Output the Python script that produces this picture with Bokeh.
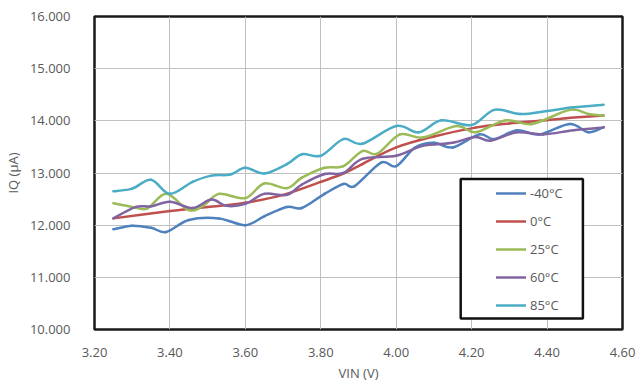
import numpy as np
from bokeh.plotting import figure
from bokeh.models import (FixedTicker, NumeralTickFormatter, Legend, LegendItem,
                          BoxAnnotation, Range1d)
from bokeh.embed import file_html
from bokeh.resources import INLINE

# ---- data ----
x_m40 = [3.25, 3.30, 3.35, 3.39, 3.45, 3.53, 3.60, 3.65, 3.71, 3.75, 3.81, 3.86, 3.89,
         3.96, 4.00, 4.05, 4.10, 4.15, 4.22, 4.26, 4.32, 4.38, 4.46, 4.51, 4.55]
y_m40 = [11.92, 11.99, 11.95, 11.87, 12.10, 12.13, 12.00, 12.17, 12.35, 12.33, 12.60, 12.79, 12.75,
         13.20, 13.13, 13.49, 13.58, 13.49, 13.74, 13.65, 13.82, 13.74, 13.94, 13.78, 13.88]

x_0 = [3.25, 3.40, 3.50, 3.60, 3.70, 3.80, 3.86, 3.91, 4.00, 4.10, 4.21, 4.30, 4.38, 4.45, 4.55]
y_0 = [12.13, 12.27, 12.35, 12.43, 12.58, 12.83, 12.99, 13.17, 13.49, 13.70, 13.87, 13.95, 14.00, 14.05, 14.10]

x_25 = [3.25, 3.30, 3.34, 3.39, 3.45, 3.49, 3.53, 3.60, 3.65, 3.71, 3.75, 3.81, 3.86, 3.91,
        3.95, 4.01, 4.07, 4.16, 4.21, 4.29, 4.36, 4.46, 4.51, 4.55]
y_25 = [12.42, 12.35, 12.32, 12.60, 12.29, 12.38, 12.60, 12.52, 12.80, 12.71, 12.91, 13.10, 13.13, 13.42,
        13.37, 13.74, 13.68, 13.90, 13.78, 14.01, 13.94, 14.21, 14.13, 14.10]

x_60 = [3.25, 3.31, 3.35, 3.40, 3.46, 3.51, 3.55, 3.60, 3.65, 3.71, 3.75, 3.81, 3.86, 3.91,
        4.00, 4.07, 4.15, 4.21, 4.25, 4.32, 4.39, 4.47, 4.55]
y_60 = [12.13, 12.35, 12.36, 12.45, 12.33, 12.49, 12.37, 12.41, 12.60, 12.58, 12.78, 12.98, 13.00, 13.27,
        13.33, 13.52, 13.58, 13.69, 13.62, 13.78, 13.74, 13.82, 13.87]

x_85 = [3.25, 3.30, 3.35, 3.40, 3.46, 3.51, 3.56, 3.60, 3.65, 3.71, 3.75, 3.80, 3.86, 3.91,
        4.00, 4.06, 4.12, 4.20, 4.26, 4.33, 4.40, 4.47, 4.55]
y_85 = [12.65, 12.70, 12.87, 12.60, 12.83, 12.95, 12.97, 13.10, 12.99, 13.17, 13.36, 13.33, 13.65, 13.56,
        13.90, 13.78, 14.01, 13.92, 14.21, 14.13, 14.19, 14.26, 14.31]

series_labels = ["-40°C", "0°C", "25°C", "60°C", "85°C"]
x_ticks = [3.2, 3.4, 3.6, 3.8, 4.0, 4.2, 4.4, 4.6]
y_ticks = [10, 11, 12, 13, 14, 15, 16]

# ---- styling ----
colors = ["#4F81BD", "#C0504D", "#9BBB59", "#8064A2", "#4BACC6"]
FONT = "Open Sans"
TXT = "#595959"


def smooth_segments(xv, yv):
    """Control points for a smoothed (Catmull-Rom style) line through the data points."""
    x = np.asarray(xv, float)
    y = np.asarray(yv, float)
    xp = np.concatenate([[x[0]], x, [x[-1]]])
    yp = np.concatenate([[y[0]], y, [y[-1]]])
    n = len(x) - 1
    x0, y0 = x[:-1], y[:-1]
    x1, y1 = x[1:], y[1:]
    cx0 = x0 + (xp[2:n + 2] - xp[0:n]) / 6.0
    cy0 = y0 + (yp[2:n + 2] - yp[0:n]) / 6.0
    cx1 = x1 - (xp[3:n + 3] - xp[1:n + 1]) / 6.0
    cy1 = y1 - (yp[3:n + 3] - yp[1:n + 1]) / 6.0
    return dict(x0=x0, y0=y0, x1=x1, y1=y1, cx0=cx0, cy0=cy0, cx1=cx1, cy1=cy1)


p = figure(width=638, height=385, output_backend="svg", toolbar_location=None,
           x_range=Range1d(3.2, 4.6), y_range=Range1d(10, 16),
           min_border_left=86, min_border_right=16, min_border_top=16, min_border_bottom=56)
p.background_fill_color = "white"
p.border_fill_color = "white"
p.outline_line_color = "#1a1a1a"
p.outline_line_width = 2.5

p.xaxis.ticker = FixedTicker(ticks=x_ticks)
p.yaxis.ticker = FixedTicker(ticks=y_ticks)
p.xaxis.formatter = NumeralTickFormatter(format="0.00")
p.yaxis.formatter = NumeralTickFormatter(format="0.000")
for ax in (p.xaxis, p.yaxis):
    ax.axis_line_color = None
    ax.major_tick_line_color = None
    ax.minor_tick_line_color = None
    ax.major_label_text_font = FONT
    ax.major_label_text_font_size = "13px"
    ax.major_label_text_color = TXT
    ax.axis_label_text_font = FONT
    ax.axis_label_text_font_size = "13px"
    ax.axis_label_text_color = TXT
    ax.axis_label_text_font_style = "normal"
p.xaxis.axis_label = "VIN (V)"
p.yaxis.axis_label = "IQ (µA)"
p.xaxis.major_label_standoff = 12
p.yaxis.major_label_standoff = 18
p.xaxis.axis_label_standoff = 4
p.yaxis.axis_label_standoff = 5

p.xgrid.grid_line_color = "#c0c0c0"
p.ygrid.grid_line_color = "#c0c0c0"
p.xgrid.grid_line_width = 1
p.ygrid.grid_line_width = 1

xs = [x_m40, x_0, x_25, x_60, x_85]
ys = [y_m40, y_0, y_25, y_60, y_85]
renderers = []
for xv, yv, c in zip(xs, ys, colors):
    seg = smooth_segments(xv, yv)
    r = p.bezier(x0=seg["x0"], y0=seg["y0"], x1=seg["x1"], y1=seg["y1"],
                 cx0=seg["cx0"], cy0=seg["cy0"], cx1=seg["cx1"], cy1=seg["cy1"],
                 line_color=c, line_width=2.5, line_cap="round")
    renderers.append(r)

# legend frame
p.add_layout(BoxAnnotation(left=4.171, right=4.495, top=12.885, bottom=10.212,
                           fill_color="white", fill_alpha=1.0,
                           line_color="#111111", line_width=2.5, line_alpha=1.0))

legend = Legend(items=[LegendItem(label=l, renderers=[r]) for l, r in zip(series_labels, renderers)],
                location=(402, 14), padding=0, spacing=8, glyph_width=30, glyph_height=20,
                label_height=20, label_standoff=4,
                label_text_font=FONT, label_text_font_size="13px", label_text_color=TXT,
                border_line_color=None, background_fill_alpha=0)
p.add_layout(legend)

open("out.html", "w").write(file_html(p, INLINE))
